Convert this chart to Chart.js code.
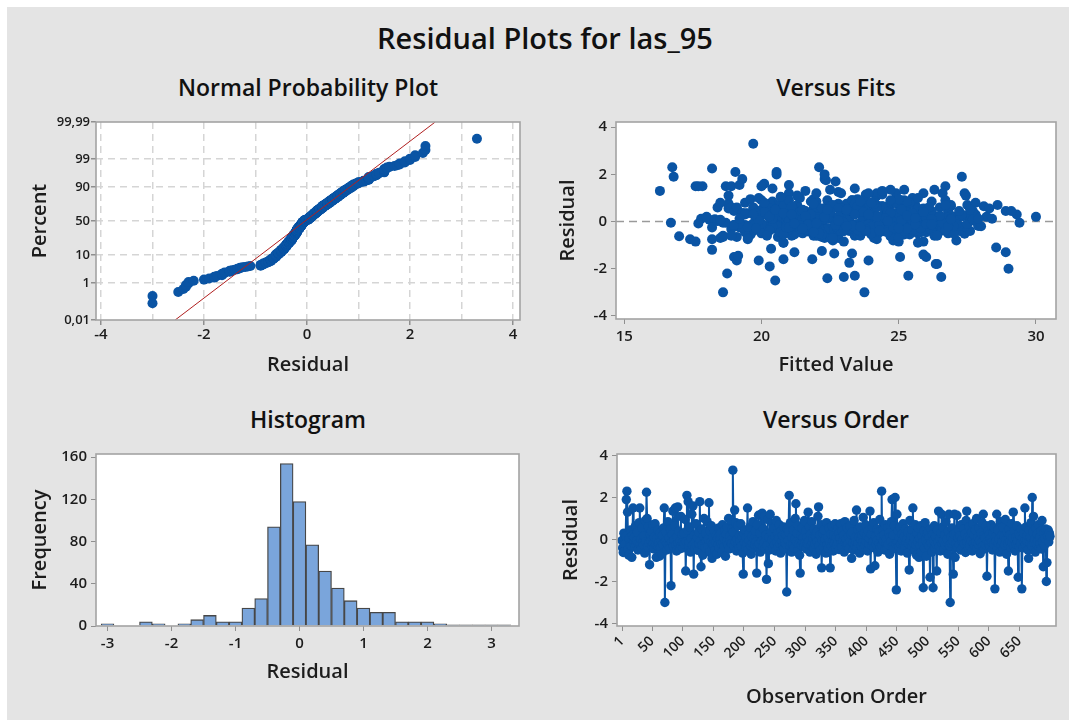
<!DOCTYPE html>
<html>
<head>
<meta charset="utf-8">
<title>Residual Plots for las_95</title>
<script src="https://cdn.jsdelivr.net/npm/chart.js@4.4.1/dist/chart.umd.min.js"></script>
<style>
  body { margin: 0; width: 1069px; height: 720px; overflow: hidden; background: #fff; font-family: 'Open Sans', sans-serif; }
  #bg { position: absolute; left: 7px; top: 7px; width: 1062px; height: 713px; background: #e4e4e4; }
  .ttl { position: absolute; width: 600px; text-align: center; line-height: 1; color: #111; font-weight: 600; white-space: nowrap; }
  canvas { position: absolute; }
</style>
</head>
<body>
<div id="bg"></div>
<div class="ttl" style="left:245px; top:23px; font-size:29px;">Residual Plots for las_95</div>
<div class="ttl" style="left:8px; top:76px; font-size:23px;">Normal Probability Plot</div>
<div class="ttl" style="left:536px; top:76px; font-size:23px;">Versus Fits</div>
<div class="ttl" style="left:8px; top:408px; font-size:23px;">Histogram</div>
<div class="ttl" style="left:536px; top:408px; font-size:23px;">Versus Order</div>

<canvas id="normal" width="540" height="300" style="left:0; top:100px;"></canvas>
<canvas id="fits" width="529" height="300" style="left:540px; top:100px;"></canvas>
<canvas id="hist" width="540" height="290" style="left:0; top:430px;"></canvas>
<canvas id="order" width="529" height="290" style="left:540px; top:430px;"></canvas>

<script>
// residuals in observation order
const residuals = [
  -0.05,-0.4,-0.62,0.3,-0.55,-0.2,0.15,1.9,2.3,1.3,
  -0.45,-0.75,0.05,-0.25,0.45,-0.3,-0.85,0.2,1.5,-0.15,
  0.1,-0.35,0.65,-0.2,-0.05,0.35,-0.5,-0.18,0.8,1.5,
  -0.22,0.02,-0.42,0.55,-0.12,-0.28,0.18,-0.65,0.9,-0.1,
  2.25,1.0,-0.35,0.6,-0.15,-1.2,0.25,-0.08,0.4,-0.3,
  0.7,-0.2,-0.45,0.12,0.75,-0.25,-0.85,0.05,-0.3,0.45,
  -0.15,-0.8,0.3,-0.38,-0.05,-0.7,0.2,-0.22,0.55,1.5,
  -3.0,-0.1,0.35,-0.5,-0.18,0.85,-0.28,0.08,-0.4,0.5,
  -2.2,-0.12,0.25,1.35,-0.32,-0.02,0.65,1.5,-0.25,-0.55,
  0.15,1.55,-0.2,0.4,-0.45,-0.08,1.1,-0.3,0.22,-0.15,
  -0.4,0.3,-0.22,0.95,-1.5,-0.1,2.1,0.45,1.8,-0.35,
  -0.15,0.6,-0.6,0.05,1.2,-0.28,1.6,-1.65,0.2,-0.45,
  -0.12,0.75,-0.3,0.1,-0.52,0.35,-0.2,1.8,-0.05,-1.3,
  0.5,-0.25,-0.75,0.15,1.0,-0.18,-0.4,0.28,-0.08,0.85,
  -0.32,0.02,1.75,-0.6,0.4,-0.15,0.65,-0.9,-0.22,0.12,
  -0.3,0.4,-0.5,-0.12,0.2,-0.7,0.05,-0.25,0.55,-0.4,
  -0.02,0.3,-0.2,-0.6,0.7,-0.15,0.1,-0.35,0.45,-0.8,
  0.25,-0.1,0.6,-0.28,1.0,-0.45,0.15,-0.05,0.9,-0.2,
  0.5,3.3,0.35,-0.3,1.4,-0.12,0.8,-0.55,0.02,0.65,
  -0.25,-0.4,0.18,-0.08,0.75,-0.32,0.1,-0.65,-1.65,0.3,
  -0.15,0.45,-0.38,0.08,-0.22,1.5,-0.5,0.25,-0.05,0.6,
  -0.3,-0.7,0.15,-0.18,0.85,-0.42,0.02,-0.25,0.4,-0.1,
  -1.6,0.7,-0.32,1.15,-0.2,0.3,-0.6,1.2,-0.08,1.25,
  -0.35,0.5,-0.15,1.1,-0.45,0.2,-1.9,-0.28,0.95,-1.15,
  0.1,-0.5,1.2,-0.2,0.35,-0.02,0.75,-0.4,0.55,-0.25,
  0.15,-0.55,0.9,-0.12,0.3,-0.35,0.05,0.7,-0.2,-0.65,
  0.4,-0.08,0.2,-0.3,0.6,-0.45,-0.15,0.25,-0.22,-2.5,
  0.5,-0.05,0.35,2.1,-0.3,0.8,-0.18,-0.6,0.12,-0.25,
  0.45,-0.4,0.02,1.0,1.7,-0.1,0.3,-0.5,0.65,-0.2,
  -0.75,-1.6,0.2,-0.28,0.55,-0.12,0.08,-0.35,0.9,-0.15,
  0.4,-0.45,0.1,-0.2,1.3,-0.08,0.6,-0.6,0.25,-0.3,
  0.85,-0.15,0.05,-0.4,0.5,-0.22,0.15,-0.7,0.35,-0.1,
  1.1,1.55,-0.28,0.2,-0.5,0.7,-1.35,-0.05,0.3,-0.35,
  0.45,-0.18,0.02,-0.65,0.8,-0.25,0.12,-0.42,0.55,-0.12,
  -1.35,0.25,-0.3,0.65,-0.08,-0.55,0.18,-0.2,0.75,-0.38,
  0.1,-0.25,0.5,-0.12,0.3,-0.48,0.05,0.75,-0.2,-0.35,
  0.4,-0.08,0.2,-0.6,0.85,-0.15,0.02,-0.3,0.55,-0.22,
  0.15,-0.42,0.65,-0.05,0.25,-0.9,0.35,-0.18,-0.5,0.9,
  -0.28,0.08,-0.1,1.4,-0.38,0.45,-0.2,0.12,-0.65,0.6,
  -0.02,-0.32,0.2,-0.15,1.05,-0.45,0.3,-0.25,0.7,-0.1,
  0.18,-0.55,0.4,-0.2,0.05,1.35,-1.4,0.25,-0.3,0.6,
  -0.12,0.8,-0.4,-1.25,0.15,-0.22,0.5,-0.05,-0.6,0.35,
  -0.18,0.95,-0.35,0.1,2.3,-0.28,0.45,-0.08,0.22,-0.5,
  0.7,-0.15,0.02,-0.38,0.55,-0.25,0.3,-0.7,0.12,-0.1,
  0.85,1.9,-0.32,0.2,-0.45,0.65,2.0,-0.2,-2.4,1.2,
  -0.15,0.4,-0.35,0.08,0.6,-0.22,-0.55,0.25,-0.05,0.75,
  -0.3,0.15,-0.4,0.5,-0.12,0.02,-0.65,0.35,-0.2,-1.45,
  0.9,-0.08,0.2,-0.3,0.45,1.5,-0.18,0.1,-0.5,0.7,
  -0.25,-0.75,0.3,-0.1,0.55,-0.85,0.05,-0.28,0.65,-0.6,
  0.18,-0.15,-2.3,0.4,-0.42,0.8,-0.02,-0.8,0.28,-0.2,
  0.35,-0.3,0.1,-1.8,0.5,-0.15,-0.6,0.22,-2.3,-0.05,
  0.65,-0.4,0.15,-0.22,-1.5,0.45,-0.1,1.35,-0.35,0.05,
  -0.55,0.3,1.2,-0.2,0.6,-0.08,-0.45,0.2,-0.25,0.85,
  -0.12,0.02,-0.7,0.4,1.2,-0.3,-3.0,0.12,-0.18,0.55,
  -0.05,-1.65,0.25,1.2,-0.85,0.3,-0.2,1.15,-0.38,0.08,
  0.45,-0.25,0.15,-0.5,0.7,-0.1,0.02,-0.35,0.5,-0.2,
  0.25,-0.62,0.9,1.35,-0.15,0.1,-0.42,0.6,-0.28,0.05,
  -0.08,0.35,-0.55,0.75,-0.18,0.2,-0.3,0.45,-0.12,1.0,
  -0.4,0.12,-0.22,0.55,-0.05,-0.68,0.3,-0.15,0.8,-0.32,
  1.2,0.18,-0.45,0.08,-0.25,0.65,-1.75,-0.1,0.4,-0.2,
  0.25,-0.35,0.05,0.7,-0.15,-0.5,0.3,-0.22,0.55,-2.35,
  0.12,-0.08,1.2,-0.4,0.45,-0.18,0.02,-0.6,0.85,-0.28,
  0.2,-0.1,0.6,-0.45,0.15,-0.25,0.95,-0.05,-0.7,0.35,
  -0.2,-1.5,0.5,-0.12,0.22,-0.38,0.75,-0.15,0.08,1.3,
  -0.3,0.4,-0.55,0.1,-0.22,0.65,-0.08,-1.8,0.28,-0.35,
  0.15,-0.2,0.5,-2.35,0.05,-0.4,0.3,-0.12,1.5,-0.25,
  0.6,-0.05,0.2,-0.5,-0.9,0.45,-0.18,0.1,0.8,-0.3,
  2.0,0.35,1.1,-0.15,0.02,-0.6,0.55,-0.22,0.25,-0.08,
  0.7,-0.38,0.12,-0.2,0.4,-0.45,0.9,-0.1,-1.3,0.3,
  -0.28,0.05,0.5,-2.0,-1.1,0.2,0.45,-0.12,0.3,0.15
];

// fitted values, same order
const fittedValues = [
  16.7,21.4,17.0,23.8,19.6,25.2,20.3,16.8,16.75,16.3,
  22.6,17.4,24.5,19.2,26.1,21.0,17.6,22.9,17.6,20.7,
  25.8,19.9,23.1,21.7,18.6,24.9,20.2,22.2,19.4,17.85,
  23.6,21.1,26.4,18.8,24.1,20.5,27.2,19.1,22.4,25.5,
  18.2,20.9,23.3,19.7,21.9,18.2,24.7,20.0,26.8,22.0,
  21.3,19.5,24.3,17.8,22.8,20.6,25.9,18.3,23.5,21.6,
  19.0,24.8,20.1,26.6,22.1,18.5,23.9,20.8,25.3,18.7,
  18.6,21.5,19.3,24.0,22.7,20.4,26.0,18.1,23.2,21.2,
  18.75,25.0,19.8,22.5,20.9,27.0,24.4,18.9,21.8,19.6,
  23.7,19.2,25.6,20.3,22.3,17.7,24.2,21.0,26.3,19.4,
  23.0,20.7,25.1,21.9,19.0,24.6,19.05,22.9,19.3,20.2,
  26.2,18.4,23.4,21.3,24.9,19.9,20.1,19.1,22.6,25.4,
  20.5,18.8,23.8,21.7,27.4,19.5,22.2,22.3,24.5,21.2,
  20.0,25.7,18.2,23.1,21.4,26.5,19.7,24.1,20.6,22.0,
  18.9,25.2,22.35,21.1,23.6,19.2,26.9,20.8,24.2,22.4,
  19.6,23.3,21.5,25.8,18.0,22.8,20.4,24.7,19.1,21.8,
  26.1,23.7,20.2,18.6,25.0,22.1,19.8,24.3,21.0,27.1,
  20.7,23.5,18.9,22.5,25.5,19.4,21.6,24.0,20.0,26.4,
  22.9,19.7,23.9,21.2,20.4,25.3,18.5,22.6,20.9,24.6,
  19.3,27.6,21.4,23.0,20.3,25.9,18.3,22.2,19.9,24.8,
  21.7,19.0,23.6,26.7,20.5,20.0,22.4,24.4,18.7,21.1,
  25.1,19.5,23.2,20.6,26.2,22.7,18.4,24.9,21.3,19.8,
  20.8,25.6,22.0,23.8,20.1,27.8,21.9,24.2,19.2,22.8,
  25.4,20.9,23.4,18.8,26.0,21.5,20.3,24.5,19.6,20.35,
  22.3,25.7,21.0,23.1,19.4,26.6,20.7,24.0,22.5,18.2,
  23.9,21.2,25.2,19.7,22.1,24.6,20.4,26.9,21.8,18.6,
  23.5,20.0,25.9,22.6,19.1,24.1,21.4,27.3,20.6,20.5,
  23.0,25.5,19.3,20.55,22.2,24.8,21.6,18.9,26.3,23.3,
  20.2,22.9,25.0,19.9,22.7,24.3,21.1,26.8,20.8,23.7,
  19.5,21.85,25.3,22.4,20.3,24.4,18.5,23.6,21.0,26.1,
  20.1,24.9,22.0,19.6,21.6,25.8,23.2,20.7,27.5,22.5,
  24.1,19.0,21.7,25.1,23.4,20.4,26.5,22.3,19.8,24.7,
  21.3,21.0,25.6,22.8,20.0,23.9,22.65,26.2,19.4,24.3,
  21.5,27.9,22.1,20.6,25.4,23.0,19.2,24.5,21.9,26.7,
  23.3,20.9,25.0,22.4,19.7,24.0,21.2,26.0,23.5,20.3,
  22.6,25.3,20.5,24.2,21.8,26.4,19.9,23.1,25.7,21.0,
  24.6,22.2,27.0,20.2,23.8,25.9,21.4,24.4,22.9,19.5,
  26.2,23.6,21.1,25.2,22.4,20.8,24.8,26.6,22.0,23.3,
  19.8,25.5,21.6,23.4,24.1,27.7,22.7,20.4,25.0,23.9,
  21.3,26.3,24.3,22.1,20.7,25.8,23.0,21.9,24.7,26.9,
  22.8,25.4,20.6,24.0,23.2,24.7,25.9,21.5,26.1,22.5,
  24.5,20.1,25.6,22.2,23.7,21.2,26.8,24.2,22.0,25.1,
  20.9,23.5,26.5,21.7,22.1,24.9,23.1,27.1,20.3,25.3,
  22.6,24.4,21.0,26.2,23.6,25.0,19.7,24.1,22.9,26.7,
  21.8,27.3,23.4,25.7,20.7,24.6,22.3,26.0,22.4,27.4,
  23.8,21.4,25.5,24.3,22.0,26.9,20.8,23.9,25.2,21.9,
  24.8,22.7,27.2,20.5,24.0,26.3,22.5,25.8,21.1,19.15,
  23.3,25.1,28.2,22.2,24.6,26.7,21.6,25.4,23.5,27.5,
  20.9,24.2,26.1,22.8,25.7,23.0,21.3,26.6,24.4,22.1,
  27.0,23.7,23.4,25.9,21.7,24.9,26.4,22.6,25.0,23.2,
  26.2,22.4,24.7,26.35,21.5,25.6,23.6,27.3,25.35,22.9,
  24.1,26.8,21.2,24.5,25.05,23.3,26.0,25.2,22.3,27.7,
  24.8,21.8,25.9,23.5,26.5,22.7,24.3,27.1,21.0,25.3,
  23.9,26.3,22.5,24.6,26.6,21.4,23.75,25.5,27.9,22.8,
  24.9,23.9,26.9,22.0,25.0,23.4,27.4,24.4,21.7,26.1,
  23.7,25.8,22.6,27.0,24.2,21.3,26.4,23.1,25.1,28.0,
  22.4,24.7,26.7,26.3,21.9,25.4,23.6,27.6,22.1,24.5,
  26.0,20.8,25.2,23.4,27.2,22.8,24.9,26.2,21.6,25.7,
  23.0,28.4,24.0,22.2,26.6,25.0,21.1,24.3,27.8,23.8,
  22.9,26.8,24.6,21.5,25.3,23.5,23.2,27.1,22.5,24.8,
  26.5,22.0,25.5,28.6,23.3,24.0,27.3,21.8,25.9,23.0,
  26.9,22.7,23.9,25.2,28.9,21.4,24.6,26.3,23.6,25.8,
  22.3,27.5,24.2,21.9,26.0,23.4,25.0,29.4,22.6,24.7,
  27.0,26.0,23.1,25.6,21.6,26.7,24.1,22.9,27.7,24.4,
  25.3,23.7,22.2,26.2,24.9,28.1,21.2,26.4,25.4,23.5,
  24.5,26.8,22.4,26.55,25.1,23.8,29.3,21.7,17.7,24.8,
  26.1,23.0,30.0,22.1,25.7,27.2,23.3,26.9,24.0,21.5,
  20.55,25.5,27.45,22.7,24.6,26.4,28.3,23.6,25.3,22.0,
  26.7,24.3,27.9,23.1,25.9,21.9,24.7,26.0,28.9,23.4,
  25.0,22.8,27.6,29.0,28.55,24.2,29.1,26.2,23.9,25.6
];

// histogram bins (midpoints) and counts
const histMids = [-3.0,-2.8,-2.6,-2.4,-2.2,-2.0,-1.8,-1.6,-1.4,-1.2,-1.0,-0.8,-0.6,-0.4,-0.2,0.0,
                  0.2,0.4,0.6,0.8,1.0,1.2,1.4,1.6,1.8,2.0,2.2,2.4,2.6,2.8,3.0,3.2];
const histCounts = [2,0,0,4,2,0,2,6,10,4,4,17,26,94,154,118,
                    77,52,36,24,17,13,13,4,4,4,2,1,1,1,1,1];

// probability plot axis and fitted line
const probTickPercents = [0.01, 1, 10, 50, 90, 99, 99.99];
const probTickLabels = ['0,01', '1', '10', '50', '90', '99', '99,99'];
const fitLineResidual = [-2.56, 2.49];
const fitLinePercent = [0.01, 99.99];

const normalXTicks = [-4, -3, -2, -1, 0, 1, 2, 3, 4];
const fitsXTicks = [15, 20, 25, 30];
const residTicks = [-4, -2, 0, 2, 4];
const histXTicks = [-3, -2, -1, 0, 1, 2, 3];
const histYTicks = [0, 40, 80, 120, 160];
const orderTicks = [1, 50, 100, 150, 200, 250, 300, 350, 400, 450, 500, 550, 600, 650];

const BLUE = '#0a54a4';
const FONT = "'Open Sans', sans-serif";
const tickFont = { family: FONT, size: 15, weight: '600' };
const axisTitleFont = { family: FONT, size: 20, weight: '600' };
Chart.defaults.color = '#1c1c1c';
Chart.defaults.font.family = FONT;

// Acklam's inverse normal, used for the probability scale
function invNorm(p) {
  const a = [-3.969683028665376e+01, 2.209460984245205e+02, -2.759285104469687e+02, 1.383577518672690e+02, -3.066479806614716e+01, 2.506628277459239e+00];
  const b = [-5.447609879822406e+01, 1.615858368580409e+02, -1.556989798598866e+02, 6.680131188771972e+01, -1.328068155288572e+01];
  const c = [-7.784894002430293e-03, -3.223964580411365e-01, -2.400758277161838e+00, -2.549732539343734e+00, 4.374664141464968e+00, 2.938163982698783e+00];
  const d = [7.784695709041462e-03, 3.224671290700398e-01, 2.445134137142996e+00, 3.754408661907416e+00];
  const pl = 0.02425;
  let q, r;
  if (p < pl) {
    q = Math.sqrt(-2 * Math.log(p));
    return (((((c[0]*q+c[1])*q+c[2])*q+c[3])*q+c[4])*q+c[5]) / ((((d[0]*q+d[1])*q+d[2])*q+d[3])*q+1);
  }
  if (p > 1 - pl) {
    q = Math.sqrt(-2 * Math.log(1 - p));
    return -(((((c[0]*q+c[1])*q+c[2])*q+c[3])*q+c[4])*q+c[5]) / ((((d[0]*q+d[1])*q+d[2])*q+d[3])*q+1);
  }
  q = p - 0.5;
  r = q * q;
  return (((((a[0]*r+a[1])*r+a[2])*r+a[3])*r+a[4])*r+a[5])*q / (((((b[0]*r+b[1])*r+b[2])*r+b[3])*r+b[4])*r+1);
}

// white plot area + grey frame
const framePlugin = {
  id: 'frame',
  beforeDraw(chart) {
    const { ctx, chartArea: a } = chart;
    ctx.save();
    ctx.fillStyle = '#fff';
    ctx.fillRect(a.left, a.top, a.right - a.left, a.bottom - a.top);
    ctx.restore();
  },
  afterDraw(chart) {
    const { ctx, chartArea: a } = chart;
    ctx.save();
    ctx.strokeStyle = '#a3a3a3';
    ctx.lineWidth = 1.6;
    ctx.strokeRect(a.left, a.top, a.right - a.left, a.bottom - a.top);
    ctx.restore();
  }
};

// dashed reference line at residual = 0
const zeroLine = {
  id: 'zeroLine',
  beforeDatasetsDraw(chart) {
    const { ctx, chartArea: a, scales } = chart;
    const y = scales.y.getPixelForValue(0);
    ctx.save();
    ctx.strokeStyle = '#9a9a9a';
    ctx.lineWidth = 1.6;
    ctx.setLineDash([8, 5]);
    ctx.beginPath();
    ctx.moveTo(a.left, y);
    ctx.lineTo(a.right, y);
    ctx.stroke();
    ctx.restore();
  }
};

const base = {
  responsive: false,
  animation: false,
  events: [],
  plugins: { legend: { display: false }, tooltip: { enabled: false } }
};

function fixedTicks(list) {
  return s => { s.ticks = list.map(v => ({ value: v })); };
}

function plainGrid() {
  return { drawOnChartArea: false, tickLength: 5, tickColor: '#8f8f8f', color: '#8f8f8f' };
}

// ---------- Normal probability plot ----------
const sorted = residuals.slice().sort((a, b) => a - b);
const n = sorted.length;
const normalPoints = sorted.map((r, i) => ({ x: r, y: invNorm((i + 0.7) / (n + 0.4)) }));
const fitLine = fitLineResidual.map((x, i) => ({ x: x, y: invNorm(fitLinePercent[i] / 100) }));
const zMin = invNorm(0.0001), zMax = invNorm(0.9999);

new Chart(document.getElementById('normal'), {
  type: 'scatter',
  data: {
    datasets: [
      { data: normalPoints, pointRadius: 5, pointBackgroundColor: BLUE, pointBorderWidth: 0, order: 1 },
      { data: fitLine, showLine: true, borderColor: '#b02020', borderWidth: 1, pointRadius: 0, order: 0 }
    ]
  },
  options: {
    ...base,
    layout: { padding: { top: 22, right: 20, left: 0, bottom: 0 } },
    scales: {
      x: {
        type: 'linear', min: -4.097, max: 4.136,
        afterBuildTicks: fixedTicks(normalXTicks),
        afterFit: s => { s.height = 80; },
        ticks: { font: tickFont, padding: 1, maxRotation: 0, callback: v => (v % 2 === 0 ? String(v) : '') },
        grid: {
          color: '#d5d5d5', lineWidth: 1.5, tickLength: 5,
          tickColor: c => (c.tick && c.tick.value % 2 === 0 ? '#8f8f8f' : 'rgba(0,0,0,0)')
        },
        border: { display: false, dash: [7, 5] },
        title: { display: true, text: 'Residual', font: axisTitleFont, padding: { top: 0, bottom: 23 } }
      },
      y: {
        type: 'linear', min: zMin, max: zMax,
        afterBuildTicks: s => { s.ticks = probTickPercents.map(p => ({ value: invNorm(p / 100) })); },
        afterFit: s => { s.width = 96; },
        ticks: { font: { family: FONT, size: 13, weight: '600' }, padding: 1, callback: (v, i) => probTickLabels[i] },
        grid: {
          color: c => (c.index === 0 || c.index === probTickPercents.length - 1 ? 'rgba(0,0,0,0)' : '#d5d5d5'),
          lineWidth: 1.5, tickLength: 5, tickColor: '#8f8f8f'
        },
        border: { display: false, dash: [7, 5] },
        title: { display: true, text: 'Percent', font: axisTitleFont, padding: { top: 28, bottom: 0 } }
      }
    }
  },
  plugins: [framePlugin]
});

// ---------- Versus Fits ----------
const fitsPoints = residuals.map((r, i) => ({ x: fittedValues[i], y: r })).filter(p => p.x !== undefined);

new Chart(document.getElementById('fits'), {
  type: 'scatter',
  data: { datasets: [{ data: fitsPoints, pointRadius: 5, pointBackgroundColor: BLUE, pointBorderWidth: 0 }] },
  options: {
    ...base,
    layout: { padding: { top: 22, right: 13, left: 0, bottom: 0 } },
    scales: {
      x: {
        type: 'linear', min: 14.7, max: 30.73,
        afterBuildTicks: fixedTicks(fitsXTicks),
        afterFit: s => { s.height = 81; },
        ticks: { font: tickFont, padding: 4, maxRotation: 0 },
        grid: plainGrid(),
        border: { display: false },
        title: { display: true, text: 'Fitted Value', font: axisTitleFont, padding: { top: 0, bottom: 23 } }
      },
      y: {
        type: 'linear', min: -4.13, max: 4.22,
        afterBuildTicks: fixedTicks(residTicks),
        afterFit: s => { s.width = 76; },
        ticks: { font: tickFont, padding: 4 },
        grid: plainGrid(),
        border: { display: false },
        title: { display: true, text: 'Residual', font: axisTitleFont, padding: { top: 16, bottom: 0 } }
      }
    }
  },
  plugins: [framePlugin, zeroLine]
});

// ---------- Histogram ----------
new Chart(document.getElementById('hist'), {
  type: 'bar',
  data: {
    datasets: [{
      data: histMids.map((m, i) => ({ x: m, y: histCounts[i] })),
      backgroundColor: '#7aa5db', borderColor: '#474747', borderWidth: 1.3,
      barPercentage: 1, categoryPercentage: 1
    }]
  },
  options: {
    ...base,
    layout: { padding: { top: 24, right: 21, left: 0, bottom: 0 } },
    scales: {
      x: {
        type: 'linear', min: -3.18, max: 3.43, offset: false,
        afterBuildTicks: fixedTicks(histXTicks),
        afterFit: s => { s.height = 94; },
        ticks: { font: tickFont, padding: 4, maxRotation: 0 },
        grid: { ...plainGrid(), offset: false },
        border: { display: false },
        title: { display: true, text: 'Residual', font: axisTitleFont, padding: { top: 0, bottom: 36 } }
      },
      y: {
        type: 'linear', min: 0, max: 163,
        afterBuildTicks: fixedTicks(histYTicks),
        afterFit: s => { s.width = 96; },
        ticks: { font: tickFont, padding: 4 },
        grid: plainGrid(),
        border: { display: false },
        title: { display: true, text: 'Frequency', font: axisTitleFont, padding: { top: 28, bottom: 0 } }
      }
    }
  },
  plugins: [framePlugin]
});

// ---------- Versus Order ----------
new Chart(document.getElementById('order'), {
  type: 'line',
  data: {
    datasets: [{
      data: residuals.map((r, i) => ({ x: i + 1, y: r })),
      borderColor: BLUE, borderWidth: 2, tension: 0,
      pointRadius: 4.7, pointBackgroundColor: BLUE, pointBorderWidth: 0
    }]
  },
  options: {
    ...base,
    layout: { padding: { top: 24, right: 13, left: 0, bottom: 0 } },
    scales: {
      x: {
        type: 'linear', min: -7.2, max: 709.8,
        afterBuildTicks: fixedTicks(orderTicks),
        afterFit: s => { s.height = 94; },
        ticks: { font: { family: FONT, size: 14, weight: '600' }, padding: 2, autoSkip: false, minRotation: 45, maxRotation: 45 },
        grid: plainGrid(),
        border: { display: false },
        title: { display: true, text: 'Observation Order', font: axisTitleFont, padding: { top: 0, bottom: 11 } }
      },
      y: {
        type: 'linear', min: -4.12, max: 4.07,
        afterBuildTicks: fixedTicks(residTicks),
        afterFit: s => { s.width = 77; },
        ticks: { font: tickFont, padding: 4 },
        grid: plainGrid(),
        border: { display: false },
        title: { display: true, text: 'Residual', font: axisTitleFont, padding: { top: 19, bottom: 0 } }
      }
    }
  },
  plugins: [framePlugin, zeroLine]
});
</script>
</body>
</html>
